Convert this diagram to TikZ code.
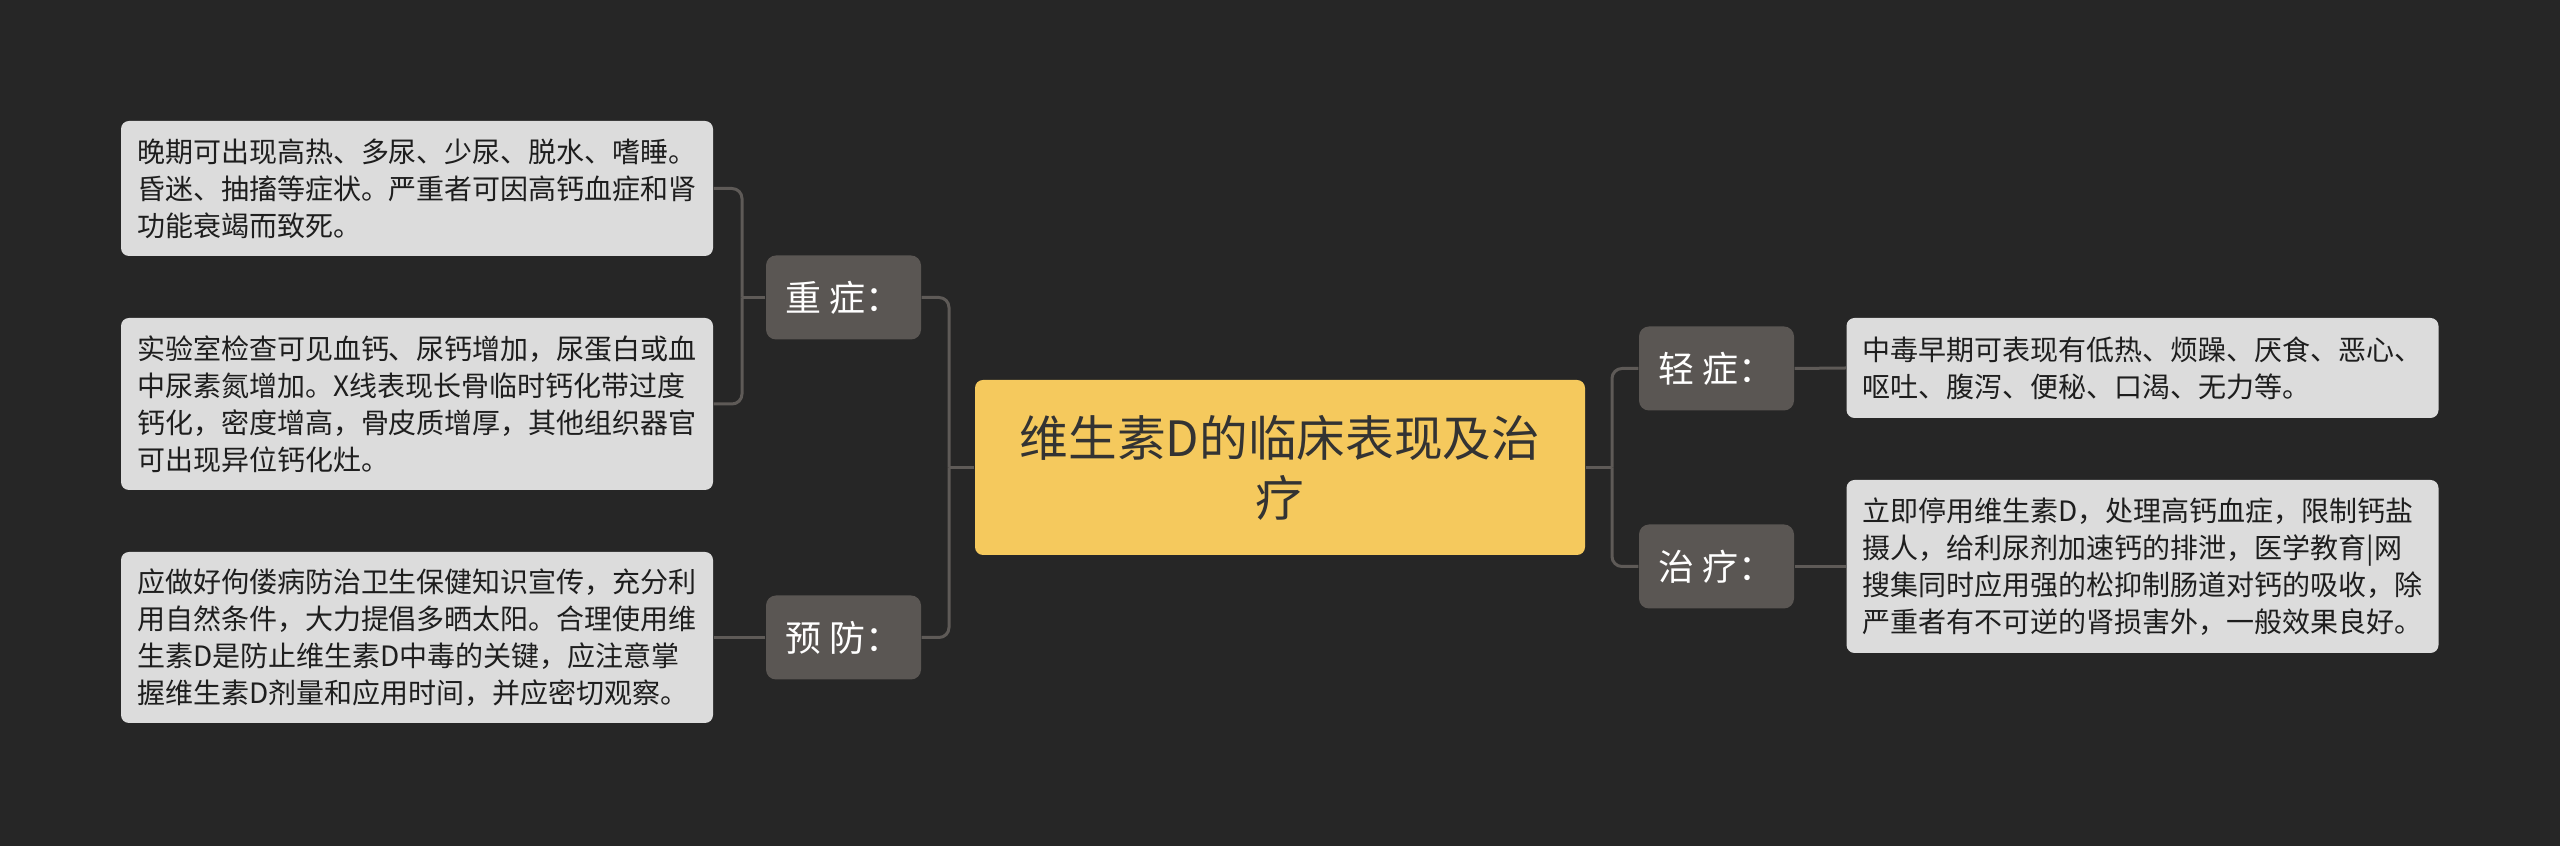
\documentclass[tikz,border=0pt]{standalone}
\usepackage{fontspec}
\setmainfont{Noto Sans CJK SC}
\definecolor{bgc}{HTML}{262626}
\definecolor{leafc}{HTML}{DCDCDC}
\definecolor{leaftext}{HTML}{1E1E1E}
\definecolor{midc}{HTML}{5A5653}
\definecolor{rootc}{HTML}{F5C95D}
\definecolor{roottext}{HTML}{333333}
\definecolor{linec}{HTML}{5E5A57}
\begin{document}
\begin{tikzpicture}[x=0.3pt,y=-0.3pt,
  leaf/.style={fill=leafc, rounded corners=2.4pt, text=leaftext,
    font=\fontsize{8.4pt}{11.1pt}\selectfont, align=left,
    text width=168pt, inner xsep=4.8pt, inner ysep=0pt, minimum width=177.6pt},
  mid/.style={fill=midc, rounded corners=3pt, text=white,
    font=\fontsize{10.8pt}{13pt}\selectfont, inner sep=0pt,
    minimum width=46.5pt, minimum height=25.2pt},
  root/.style={fill=rootc, rounded corners=2.4pt, text=roottext,
    font=\fontsize{14.6pt}{18pt}\selectfont, align=center, inner sep=0pt,
    minimum width=183pt, minimum height=52.5pt},
  conn/.style={draw=linec, line width=0.9pt, rounded corners=3pt}]
\fill[bgc] (0,0) rectangle (2560,846);
\useasboundingbox (0,0) rectangle (2560,846);

\node[root] (root) at (1280,467.5) {维生素D的临床表现及治\\疗};

\node[mid] (zhong) at (843.5,297.5) {重 症：};
\node[mid] (yufang) at (843.5,637.5) {预 防：};
\node[mid] (qing) at (1716.5,368.5) {轻 症：};
\node[mid] (zhi) at (1716.5,566.5) {治 疗：};

\node[leaf, minimum height=40.5pt] (l1) at (417,188.5) {晚期可出现高热、多尿、少尿、脱水、嗜睡。\\昏迷、抽搐等症状。严重者可因高钙血症和肾\\功能衰竭而致死。};
\node[leaf, minimum height=51.6pt] (l2) at (417,404) {实验室检查可见血钙、尿钙增加，尿蛋白或血\\中尿素氮增加。X线表现长骨临时钙化带过度\\钙化，密度增高，骨皮质增厚，其他组织器官\\可出现异位钙化灶。};
\node[leaf, minimum height=51.3pt] (l3) at (417,637.5) {应做好佝偻病防治卫生保健知识宣传，充分利\\用自然条件，大力提倡多晒太阳。合理使用维\\生素D是防止维生素D中毒的关键，应注意掌\\握维生素D剂量和应用时间，并应密切观察。};
\node[leaf, minimum height=30pt] (l4) at (2142.5,368) {中毒早期可表现有低热、烦躁、厌食、恶心、\\呕吐、腹泻、便秘、口渴、无力等。};
\node[leaf, minimum height=51.9pt] (l5) at (2142.5,566.5) {立即停用维生素D，处理高钙血症，限制钙盐\\摄人，给利尿剂加速钙的排泄，医学教育|网\\搜集同时应用强的松抑制肠道对钙的吸收，除\\严重者有不可逆的肾损害外，一般效果良好。};

\coordinate (jl) at (949,467.5);
\coordinate (jr) at (1612,467.5);
\coordinate (jz) at (742,297.5);

\draw[conn] (root.west) -- (jl);
\draw[conn] (jl) |- (zhong.east);
\draw[conn] (jl) |- (yufang.east);
\draw[conn] (root.east) -- (jr);
\draw[conn] (jr) |- (qing.west);
\draw[conn] (jr) |- (zhi.west);

\draw[conn] (zhong.west) -- (jz);
\draw[conn] (jz) |- (l1.east);
\draw[conn] (jz) |- (l2.east);
\draw[conn] (yufang.west) -- (l3.east);
\draw[conn] (qing.east) -- (l4.west);
\draw[conn] (zhi.east) -- (l5.west);
\end{tikzpicture}
\end{document}
